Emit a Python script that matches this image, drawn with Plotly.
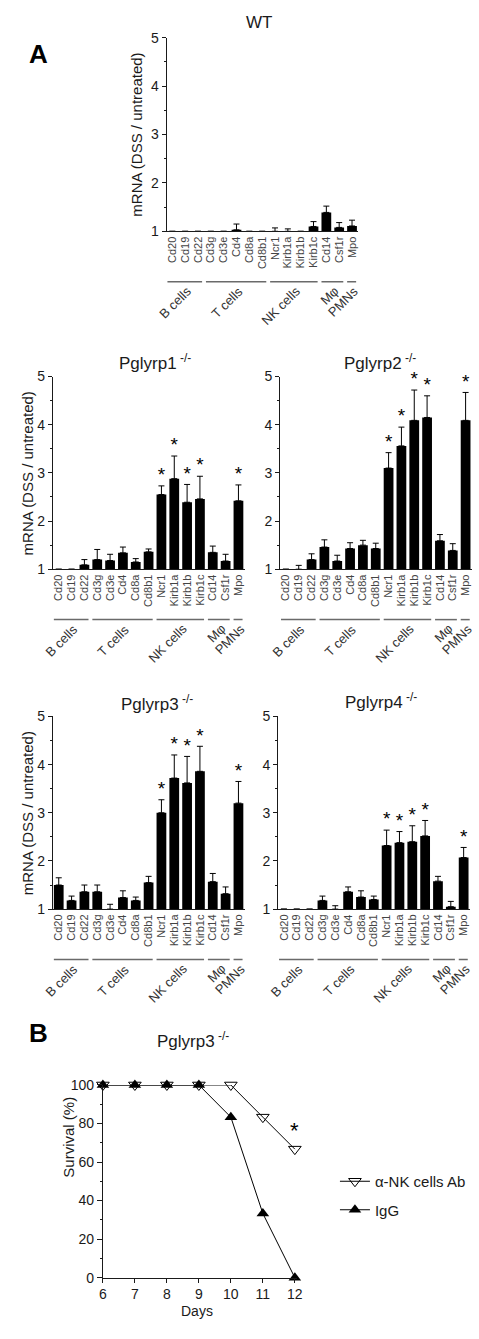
import plotly.graph_objects as go

W, H = 479, 1339

genes = ["Cd20", "Cd19", "Cd22", "Cd3g", "Cd3e", "Cd4", "Cd8a", "Cd8b1",
         "Ncr1", "Kirb1a", "Kirb1b", "Kirb1c", "Cd14", "Csf1r", "Mpo"]
groups = [("B cells", 0, 2), ("T cells", 3, 7), ("NK cells", 8, 11),
          ("Mφ", 12, 13), ("PMNs", 14, 14)]

wt_mean = [1, 1, 1, 1, 1, 1.03, 1, 1, 1, 1, 1, 1.10, 1.39, 1.08, 1.11]
wt_sem = [0, 0, 0, 0, 0, 0.12, 0, 0, 0.07, 0.05, 0, 0.10, 0.13, 0.10, 0.12]
wt_sig = []

p1_mean = [1, 1, 1.09, 1.20, 1.18, 1.34, 1.15, 1.36, 2.55, 2.88, 2.39, 2.46, 1.35, 1.17, 2.42]
p1_sem = [0, 0, 0.11, 0.21, 0.13, 0.12, 0.07, 0.06, 0.18, 0.47, 0.37, 0.47, 0.13, 0.14, 0.33]
p1_sig = [8, 9, 10, 11, 14]

p2_mean = [1, 1, 1.20, 1.46, 1.17, 1.43, 1.50, 1.43, 3.10, 3.56, 4.09, 4.15, 1.59, 1.39, 4.09]
p2_sem = [0, 0.08, 0.12, 0.15, 0.12, 0.12, 0.10, 0.11, 0.32, 0.39, 0.63, 0.45, 0.13, 0.14, 0.58]
p2_sig = [8, 9, 10, 11, 14]

p3_mean = [1.50, 1.18, 1.36, 1.36, 1, 1.24, 1.18, 1.55, 3.00, 3.72, 3.62, 3.86, 1.57, 1.32, 3.20]
p3_sem = [0.15, 0.09, 0.14, 0.14, 0.10, 0.14, 0.07, 0.13, 0.27, 0.48, 0.55, 0.52, 0.17, 0.14, 0.45]
p3_sig = [8, 9, 10, 11, 14]

p4_mean = [1, 1, 1, 1.18, 1, 1.36, 1.25, 1.20, 2.32, 2.38, 2.40, 2.52, 1.58, 1.05, 2.07]
p4_sem = [0, 0, 0, 0.09, 0.07, 0.10, 0.13, 0.07, 0.32, 0.23, 0.33, 0.32, 0.10, 0.11, 0.21]
p4_sig = [8, 9, 10, 11, 14]

days = [6, 7, 8, 9, 10, 11, 12]
surv_nk = [100, 100, 100, 100, 100, 83.3, 66.7]
surv_igg = [100, 100, 100, 100, 83.3, 33.3, 0]
surv_sig_days = [12]

FONT = "Arial, Liberation Sans, sans-serif"
INK = "#1a1a1a"

# approximate Arial / Liberation Sans advance widths (em) for label layout
CHAR_W = {"B": .667, " ": .278, "c": .5, "e": .556, "l": .222, "s": .5,
          "T": .611, "N": .722, "K": .667, "M": .833, "φ": .6, "P": .667}


def text_w(s, size):
    return sum(CHAR_W.get(ch, .556) for ch in s) * size


def px_x(a, b):
    return [a / W, b / W]


def px_y(top, bottom):
    return [1 - bottom / H, 1 - top / H]


def py(v):
    return 1 - v / H


def px(v):
    return v / W


panels = [
    ("WT", "WT", wt_mean, wt_sem, wt_sig, (166, 362), (30, 226), (260, 15), 135),
    ("P1", "Pglyrp1<sup> -/-</sup>", p1_mean, p1_sem, p1_sig, (50, 246), (373, 568), (154, 358), 24),
    ("P2", "Pglyrp2<sup> -/-</sup>", p2_mean, p2_sem, p2_sig, (282, 478), (373, 568), (384, 358), None),
    ("P3", "Pglyrp3<sup> -/-</sup>", p3_mean, p3_sem, p3_sig, (50, 246), (717, 912), (156, 703), 24),
    ("P4", "Pglyrp4<sup> -/-</sup>", p4_mean, p4_sem, p4_sig, (280, 476), (717, 912), (385, 701), None),
]

fig = go.Figure()
layout = dict(
    width=W, height=H, autosize=False,
    margin=dict(l=0, r=0, t=0, b=0, pad=0),
    paper_bgcolor="white", plot_bgcolor="white",
    font=dict(family=FONT, color=INK),
    showlegend=True,
)
annotations = []
shapes = []
xs = list(range(len(genes)))
XR = [-0.45, 14.5]
GFS = 13  # group label font size

for i, (name, title, mean, sem, sig, xdom, ydom, tpos, ytx) in enumerate(panels):
    n = i + 1
    xa = "x" if n == 1 else f"x{n}"
    ya = "y" if n == 1 else f"y{n}"
    fig.add_trace(go.Bar(
        x=xs, y=mean, xaxis=xa, yaxis=ya, width=0.76,
        marker=dict(color="black", line=dict(width=0)),
        error_y=dict(type="data", symmetric=False, array=sem,
                     arrayminus=[0] * len(sem), color="black",
                     thickness=1, width=3),
        showlegend=False, hoverinfo="skip",
    ))
    if sig:
        fig.add_trace(go.Scatter(
            x=[xs[k] for k in sig], y=[mean[k] + sem[k] for k in sig],
            xaxis=xa, yaxis=ya, mode="text", text=["*"] * len(sig),
            textposition="top center",
            textfont=dict(size=19, color="black", family=FONT),
            cliponaxis=False, showlegend=False, hoverinfo="skip",
        ))
    layout[f"xaxis{'' if n == 1 else n}"] = dict(
        domain=px_x(*xdom), anchor=ya, range=XR,
        tickmode="array", tickvals=xs, ticktext=genes, tickangle=-90,
        tickfont=dict(size=11, color="#444"), ticks="", showline=True,
        linecolor=INK, linewidth=1, showgrid=False, zeroline=False,
    )
    layout[f"yaxis{'' if n == 1 else n}"] = dict(
        domain=px_y(*ydom), anchor=xa, range=[1, 5],
        tickmode="array", tickvals=[1, 2, 3, 4, 5],
        tickfont=dict(size=14, color=INK), ticks="outside", ticklen=4,
        tickcolor=INK, showline=True, linecolor=INK, linewidth=1,
        showgrid=False, zeroline=False,
        minor=dict(dtick=0.5, ticks="outside", ticklen=2, tickcolor=INK),
    )
    annotations.append(dict(
        x=px(tpos[0]), y=py(tpos[1]), xref="paper", yref="paper",
        text=title, showarrow=False, xanchor="center", yanchor="middle",
        font=dict(size=17, color=INK),
    ))
    if ytx is not None:
        annotations.append(dict(
            x=px(ytx), y=py((ydom[0] + ydom[1]) / 2), xref="paper", yref="paper",
            text="mRNA (DSS / untreated)", textangle=-90, showarrow=False,
            xanchor="center", yanchor="middle", font=dict(size=15, color=INK),
        ))
    x0p, x1p = xdom
    unit = (x1p - x0p) / (XR[1] - XR[0])
    line_y = ydom[1] + 51
    for gname, a, b in groups:
        shapes.append(dict(
            type="line", xref=xa, yref="paper",
            x0=a - 0.38, x1=b + 0.32, y0=py(line_y), y1=py(line_y),
            line=dict(color="#6a6a6a", width=1.5),
        ))
        gc = x0p + ((a + b) / 2 - XR[0]) * unit
        half = 0.354 * text_w(gname, GFS)
        annotations.append(dict(
            x=px(gc + 3.5 - half), y=py(line_y + 7.5 + half),
            xref="paper", yref="paper", text=gname, textangle=-45,
            showarrow=False, xanchor="center", yanchor="middle",
            font=dict(size=GFS, color="#333"),
        ))

n = len(panels) + 1
xa, ya = f"x{n}", f"y{n}"
fig.add_trace(go.Scatter(
    x=days, y=surv_nk, xaxis=xa, yaxis=ya, mode="lines+markers",
    name="α-NK cells Ab", legendgroup="a",
    line=dict(color="black", width=1),
    marker=dict(symbol="triangle-down-open", size=11, color="black",
                line=dict(width=1, color="black")),
    cliponaxis=False,
))
fig.add_trace(go.Scatter(
    x=days, y=surv_igg, xaxis=xa, yaxis=ya, mode="lines+markers",
    name="IgG", legendgroup="b",
    line=dict(color="black", width=1),
    marker=dict(symbol="triangle-up", size=11, color="black"),
    cliponaxis=False,
))
for d in surv_sig_days:
    k = days.index(d)
    annotations.append(dict(
        x=d, y=surv_nk[k], xref=xa, yref=ya, text="*", showarrow=False,
        yshift=19, font=dict(size=22, color="black"),
    ))

layout[f"xaxis{n}"] = dict(
    domain=px_x(101, 299), anchor=ya, range=[6, 12.06],
    tickmode="array", tickvals=days, tickfont=dict(size=14, color=INK),
    ticks="outside", ticklen=4, tickcolor=INK, showline=True,
    linecolor=INK, linewidth=1, showgrid=False, zeroline=False,
)
layout[f"yaxis{n}"] = dict(
    domain=px_y(1090, 1285), anchor=xa, range=[0, 100],
    tickmode="array", tickvals=[0, 20, 40, 60, 80, 100],
    tickfont=dict(size=14, color=INK), ticks="outside", ticklen=5,
    tickcolor=INK, showline=True, linecolor=INK, linewidth=1,
    showgrid=False, zeroline=False,
    minor=dict(dtick=10, ticks="outside", ticklen=2, tickcolor=INK),
)
annotations += [
    dict(x=px(193), y=py(1058), xref="paper", yref="paper",
         text="Pglyrp3<sup> -/-</sup>", showarrow=False,
         font=dict(size=17, color=INK)),
    dict(x=px(197), y=py(1329), xref="paper", yref="paper", text="Days",
         showarrow=False, font=dict(size=14, color=INK)),
    dict(x=px(55), y=py(1186), xref="paper", yref="paper",
         text="Survival (%)", textangle=-90, showarrow=False,
         font=dict(size=15, color=INK)),
    dict(x=px(24), y=py(29), xref="paper", yref="paper", text="<b>A</b>",
         showarrow=False, font=dict(size=26, color="black")),
    dict(x=px(24), y=py(1055), xref="paper", yref="paper", text="<b>B</b>",
         showarrow=False, font=dict(size=26, color="black")),
]

layout["legend"] = dict(
    x=px(338), y=py(1171), xanchor="left", yanchor="top",
    bgcolor="rgba(0,0,0,0)", font=dict(size=15, color=INK),
    tracegroupgap=6, itemwidth=30,
)
layout["annotations"] = annotations
layout["shapes"] = shapes
fig.update_layout(**layout)

fig.write_html(
    "out.html",
    config={"displayModeBar": False},
    post_script="document.body.style.margin='0';document.body.style.overflow='hidden';",
)
